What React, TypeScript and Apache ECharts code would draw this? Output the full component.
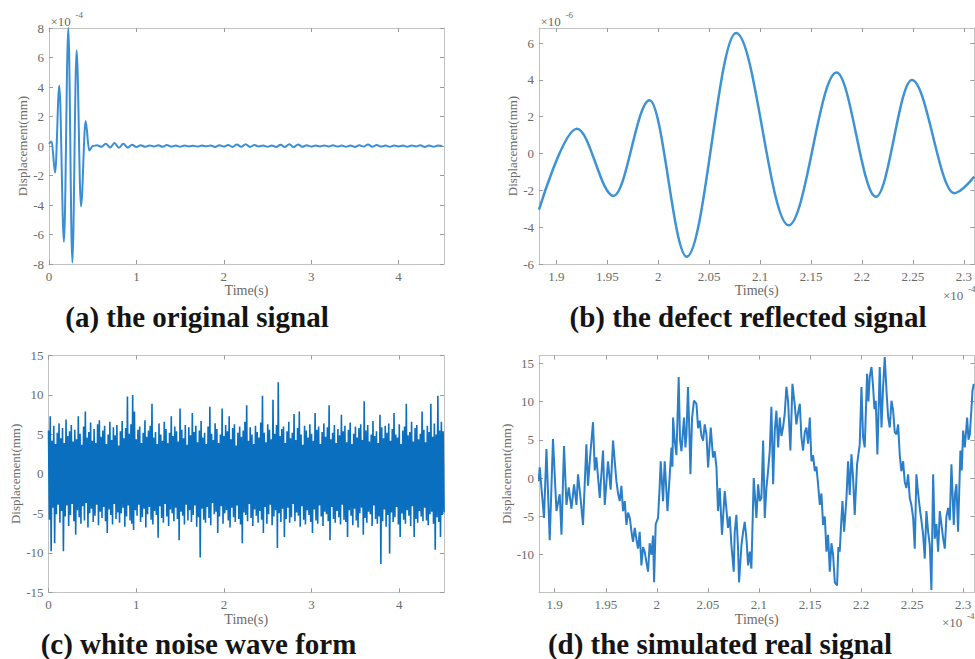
import React, { useEffect, useRef } from "react";
import * as echarts from "echarts";

const FONT = "'Liberation Serif', 'Times New Roman', serif";
const AXIS_COLOR = "#c2c2c2";
const LABEL_COLOR = "#6a6a6a";

// ---------- (a) the original signal (values x 1e-4 mm) ----------
const burstT = [0, 0.03, 0.07, 0.118, 0.171, 0.221, 0.267, 0.316, 0.366, 0.419, 0.46, 0.5];
const burstV = [0.15, 0.3, -1.8, 4.1, -6.5, 8.0, -7.9, 6.5, -4.1, 1.7, -0.3, 0];
const rippleStart = 0.55;
const rippleStep = 0.05;
const rippleV = [
  0.05, -0.05, 0.15, -0.1, 0.2, -0.12, 0.15, -0.1, 0.08, -0.06,
  0.05, -0.05, 0.04, -0.03, 0.05, -0.05, 0.06, -0.04, 0.03, -0.05,
  0.04, -0.03, 0.02, -0.04, 0.03, -0.02, 0.04, -0.06, 0.05, -0.04,
  0.06, -0.06, 0.1, -0.05, 0.12, -0.06, 0.06, -0.03, 0.03, -0.05,
  0.04, -0.06, 0.08, -0.06, 0.12, -0.08, 0.1, -0.05, 0.05, -0.04,
  0.03, -0.03, 0.04, -0.03, 0.05, -0.04, 0.03, -0.05, 0.04, -0.06,
  0.05, -0.04, 0.1, -0.05, 0.06, -0.04, 0.03, -0.05, 0.04, -0.03,
  0.03, -0.05, 0.04, -0.03, 0.05, -0.06, 0.04, -0.05, 0.04, 0,
];
const aXTicks = [0, 1, 2, 3, 4];
const aYTicks = [-8, -6, -4, -2, 0, 2, 4, 6, 8];

// ---------- (b) the defect reflected signal (x 1e-4 s, x 1e-6 mm) ----------
const defectT = [1.883, 1.9202, 1.9562, 1.9915, 2.028, 2.0765, 2.128, 2.175, 2.2137, 2.249, 2.2905, 2.3102];
const defectV = [-3.05, 1.35, -2.3, 2.9, -5.6, 6.55, -3.9, 4.4, -2.35, 4.0, -2.15, -1.25];
const bXTicks = [1.9, 1.95, 2, 2.05, 2.1, 2.15, 2.2, 2.25, 2.3];
const bYTicks = [-6, -4, -2, 0, 2, 4, 6];

// ---------- (c) white noise wave form ----------
const noiseStep = 0.02;
const noiseUpper = [
  5.5, 7.3, 4.2, 6.1, 3.8, 5.2, 6.4, 4.5, 5.8, 3.9, 6.9, 4.8, 5.4, 6.2, 4.1,
  5.6, 4.4, 7.3, 5.1, 3.7, 6.0, 7.9, 4.6, 5.3, 6.5, 4.2, 5.7, 3.9, 6.3, 6.8,
  4.7, 5.5, 6.1, 3.8, 5.0, 6.6, 4.3, 5.9, 4.9, 6.2, 3.6, 5.4, 6.7, 4.5, 5.8,
  9.8, 5.1, 6.3, 10.0, 7.9, 4.4, 5.6, 6.0, 3.9, 5.2, 6.8, 4.7, 5.5, 6.1, 8.9,
  4.6, 5.3, 3.8, 6.4, 5.0, 4.2, 6.6, 5.7, 3.9, 5.2, 7.3, 4.8, 6.0, 5.4, 4.1,
  8.3, 5.6, 4.5, 6.2, 3.7, 5.9, 4.9, 7.7, 5.3, 6.1, 4.0, 5.5, 6.7, 4.6, 5.2,
  3.8, 6.0, 8.5, 5.1, 4.3, 6.4, 5.7, 3.9, 5.0, 8.3, 4.8, 6.2, 5.4, 7.3, 4.4,
  5.8, 6.3, 3.6, 5.2, 6.0, 4.7, 5.5, 6.6, 8.7, 4.2, 5.9, 5.0, 3.8, 6.1, 5.3,
  4.6, 6.5, 9.9, 5.2, 4.0, 6.3, 5.6, 4.4, 9.4, 5.1, 6.2, 11.6, 4.8, 5.7, 6.0,
  3.9, 5.4, 6.6, 4.5, 5.2, 7.6, 4.3, 5.8, 7.9, 5.0, 3.7, 6.1, 5.5, 4.6, 6.3,
  5.1, 4.2, 7.7, 5.6, 6.0, 3.8, 5.3, 6.4, 4.7, 5.9, 8.7, 4.4, 5.2, 6.2, 3.9,
  5.7, 4.9, 7.5, 5.4, 6.1, 4.0, 5.6, 6.5, 3.8, 5.1, 6.0, 4.6, 5.8, 6.3, 4.3,
  9.2, 5.5, 6.2, 4.1, 5.0, 6.7, 4.8, 5.4, 3.9, 7.5, 5.9, 4.5, 6.1, 5.2, 6.4,
  4.2, 5.7, 7.7, 5.0, 4.6, 6.3, 3.8, 5.5, 6.0, 8.9, 4.9, 5.3, 6.6, 4.1, 5.8,
  6.2, 4.4, 5.1, 7.9, 5.6, 4.0, 6.1, 5.3, 8.9, 4.7, 6.4, 5.0, 9.9, 5.5, 6.6, 5.4,
];
const noiseLower = [
  -5.8, -9.8, -4.3, -8.8, -5.1, -3.9, -6.2, -4.7, -9.8, -5.4, -4.0, -6.6, -5.2, -3.8, -6.0,
  -7.7, -4.6, -5.5, -6.3, -4.1, -5.9, -3.7, -6.8, -5.0, -4.4, -6.1, -5.3, -3.9, -6.5, -4.8,
  -5.6, -4.2, -6.0, -7.5, -4.5, -5.2, -6.4, -3.8, -5.7, -4.9, -6.2, -5.0, -4.3, -6.7, -5.4,
  -4.0, -5.9, -6.3, -7.1, -4.6, -5.3, -3.9, -6.1, -5.5, -4.4, -6.8, -5.1, -4.2, -5.8, -6.4,
  -4.7, -5.2, -8.1, -4.1, -5.6, -6.2, -3.8, -5.4, -6.6, -4.5, -5.0, -6.0, -4.3, -5.7, -8.4,
  -4.8, -5.3, -6.4, -3.9, -5.9, -4.6, -6.1, -5.2, -4.0, -6.7, -5.5, -10.6, -4.4, -5.8, -6.2,
  -4.2, -5.6, -6.5, -3.7, -5.1, -4.8, -7.5, -5.4, -4.1, -6.3, -5.0, -4.6, -5.9, -6.8, -4.3,
  -5.5, -6.1, -4.0, -5.7, -6.4, -8.8, -4.9, -5.2, -6.0, -3.8, -5.6, -6.6, -4.5, -5.3, -6.2,
  -4.7, -5.8, -7.5, -4.2, -6.3, -5.1, -3.9, -6.5, -5.4, -4.6, -9.4, -5.0, -6.1, -4.4, -8.0,
  -5.7, -4.3, -6.2, -5.5, -3.8, -6.0, -4.9, -5.3, -6.7, -4.1, -5.8, -6.4, -4.6, -5.2, -6.1,
  -7.5, -4.5, -5.9, -6.3, -4.0, -5.4, -6.6, -4.8, -5.1, -6.0, -8.4, -4.2, -5.7, -6.2, -4.7,
  -5.5, -6.4, -3.9, -5.8, -6.1, -8.0, -4.6, -5.3, -6.5, -4.4, -5.9, -6.8, -5.0, -4.3, -7.7,
  -5.6, -6.2, -4.8, -5.1, -6.6, -4.0, -5.7, -6.3, -5.4, -11.4, -6.0, -4.5, -6.7, -5.2, -10.1,
  -4.9, -6.1, -5.5, -4.2, -6.4, -8.0, -5.0, -5.8, -6.3, -4.6, -5.3, -6.6, -4.1, -8.0, -5.7,
  -6.2, -4.7, -5.4, -6.0, -4.3, -5.9, -6.5, -5.1, -4.8, -6.3, -9.6, -5.5, -6.1, -8.0, -5.2, -4.9,
];
const cYTicks = [-15, -10, -5, 0, 5, 10, 15];

// ---------- (d) the simulated real signal ----------
const realT = [
  1.8843, 1.8853, 1.8895, 1.8919, 1.8951, 1.8983, 1.9017, 1.9049, 1.9066, 1.9091,
  1.9115, 1.9137, 1.9164, 1.9189, 1.9213, 1.9228, 1.9252, 1.9277, 1.931, 1.9326,
  1.9343, 1.9375, 1.9392, 1.9408, 1.9441, 1.9473, 1.949, 1.9522, 1.9548, 1.9571,
  1.9604, 1.962, 1.9637, 1.9653, 1.9669, 1.9686, 1.9702, 1.9718, 1.9735, 1.9757,
  1.9767, 1.9784, 1.98, 1.9816, 1.9832, 1.9849, 1.9865, 1.9881, 1.9898, 1.9914,
  1.993, 1.9947, 1.9963, 1.9973, 1.9989, 2.0012, 2.0028, 2.0038, 2.0061, 2.0077,
  2.0095, 2.0104, 2.0127, 2.0143, 2.0153, 2.0159, 2.0175, 2.0192, 2.0214, 2.0227,
  2.0241, 2.0266, 2.028, 2.029, 2.0305, 2.0319, 2.0329, 2.0345, 2.0364, 2.0388,
  2.0404, 2.042, 2.0437, 2.0453, 2.0469, 2.0486, 2.0502, 2.0528, 2.055, 2.0567,
  2.0584, 2.0599, 2.0616, 2.0638, 2.0665, 2.0681, 2.0697, 2.0714, 2.073, 2.0753,
  2.0763, 2.0779, 2.0795, 2.0805, 2.0829, 2.0845, 2.0861, 2.0878, 2.0894, 2.091,
  2.0926, 2.0949, 2.0975, 2.0992, 2.1008, 2.1024, 2.1041, 2.1057, 2.1073, 2.109,
  2.1106, 2.1122, 2.1139, 2.1155, 2.1171, 2.1188, 2.1204, 2.122, 2.1236, 2.1253,
  2.1269, 2.1285, 2.1308, 2.1328, 2.1351, 2.1367, 2.1383, 2.14, 2.1416, 2.1432,
  2.1449, 2.1465, 2.1481, 2.1498, 2.1514, 2.153, 2.1547, 2.1563, 2.1579, 2.1596,
  2.1612, 2.1628, 2.1645, 2.1661, 2.1677, 2.1694, 2.171, 2.1726, 2.1743, 2.1765,
  2.1778, 2.1791, 2.1805, 2.1818, 2.1834, 2.1857, 2.1873, 2.1889, 2.1906, 2.1922,
  2.1938, 2.1961, 2.1987, 2.2004, 2.202, 2.2036, 2.2059, 2.2072, 2.2085, 2.2102,
  2.2118, 2.2131, 2.2144, 2.216, 2.2183, 2.22, 2.2216, 2.2232, 2.2249, 2.2265,
  2.2281, 2.2298, 2.2314, 2.233, 2.2347, 2.2363, 2.2379, 2.2395, 2.2412, 2.2428,
  2.2444, 2.2461, 2.2477, 2.2493, 2.251, 2.2526, 2.2542, 2.2559, 2.2575, 2.2591,
  2.2608, 2.2624, 2.264, 2.2657, 2.2673, 2.2689, 2.2706, 2.2722, 2.2738, 2.2755,
  2.2771, 2.2787, 2.2804, 2.282, 2.2836, 2.2853, 2.2869, 2.2885, 2.2908, 2.2921,
  2.2934, 2.295, 2.2973, 2.2986, 2.3, 2.3016, 2.3039, 2.3052, 2.3065, 2.3081,
  2.3091, 2.3104,
];
const realV = [
  -0.4, 1.4, -5.2, 3.8, -8.1, 5.1, -4.3, -2.1, -7.4, 4.2,
  -3.5, -1.2, -4, -0.8, -3.5, 0.5, -2.5, -6.1, 4.4, -1,
  2.2, 7.3, 1, 2.7, -2.6, 3.6, -3.5, 2.2, -1.5, 4.9,
  -0.4, -2, -3, -1, -4.3, -3, -6.1, -4.5, -5.2, -7.5,
  -8.3, -6.5, -8, -9.2, -7, -11.4, -9, -9.6, -11, -12.2,
  -8.5, -10, -7.5, -13.6, -6, -5.2, -1, 2.2, -3, 2.2,
  -2, -4.3, 0.5, 4, 1.5, 7.9, 4.9, 3, 13.2, 5,
  3.5, 7.9, 4, 5.7, 11.9, 6, 0.5, 7.9, 10.1, 9.7,
  6.5, 7.5, 5.5, 4.9, 7, 5.7, 1.4, 6.6, 2.7, 3.5,
  1.4, -4.3, -1.3, -7.4, -1.7, -4, -6.5, -5, -8.7, -12.2,
  -7, -4.8, -9, -13.6, -8.7, -7, -5.7, -8, -11.4, -9.6,
  -11.8, 0, -5.2, -0.8, -3, -2.6, 4.9, -5.2, -1.3, 1,
  3.6, 9.3, -0.8, 6.2, 8.8, 4, 7.9, 5.5, 6.6, 8.5,
  11.9, 10.1, 3.6, 12.3, 9.5, 7, 8.5, 9.7, 5.3, 3.6,
  6, 6.6, 4.5, 7.9, 2.2, 3, 0.9, 1.5, -0.8, -3.5,
  -2, -6.1, -5, -9.6, -7.4, -12.2, -8.5, -10, -13.6, -14,
  -9, -9.6, -6, -3, -7, -2.6, 2.2, -2.2, 3.1, 0,
  -4.8, 1.8, 4.4, 11.9, 5.3, 4, 13.6, 10, 13.2, 14.5,
  11.9, 9, 10.1, 3.1, 14.5, 6.6, 11.9, 15.8, 11.4, 8,
  6.6, 10.1, 8.8, 6, 5.7, 7, 3, 0.9, 2.2, -0.5,
  -1.3, 0.5, -2.6, -3.5, -5.2, -9.2, 0.5, -2, -3.9, -5.5,
  -7.4, -10.5, -4.3, -7, -8.7, -14.6, 0.5, -7.9, -6, -9.6,
  -4.3, -6, -7.9, -9.2, -5, -3.9, -5.5, 1.8, -6.1, -2,
  -0.8, -7, 3.6, 1, 6.2, 4, 7.9, 5, 5.7, 9,
  11.4, 12.3,
];
const dYTicks = [-10, -5, 0, 5, 10, 15];

const GRIDS = [
  { left: 49, top: 28, width: 395, height: 236 },
  { left: 539, top: 28, width: 435.5, height: 236 },
  { left: 48.5, top: 355.5, width: 395.5, height: 236.8 },
  { left: 539, top: 355.5, width: 435.5, height: 236.8 },
];

function axisPair(
  grid: number,
  dir: "x" | "y",
  min: number,
  max: number,
  ticks: number[],
  name: string,
  nameGap: number
) {
  const common = {
    type: "value",
    gridIndex: grid,
    min,
    max,
    splitLine: { show: false },
    axisLine: { show: true, onZero: false, lineStyle: { color: AXIS_COLOR, width: 1 } },
    axisTick: { show: true, inside: true, length: 4, customValues: ticks, lineStyle: { color: "#9a9a9a", width: 1 } },
  };
  const main = {
    ...common,
    position: dir === "x" ? "bottom" : "left",
    name,
    nameLocation: "middle",
    nameGap,
    nameTextStyle: { color: LABEL_COLOR, fontFamily: FONT, fontSize: dir === "x" ? 14 : 13 },
    axisLabel: {
      show: true,
      customValues: ticks,
      color: LABEL_COLOR,
      fontFamily: FONT,
      fontSize: 13,
      margin: dir === "x" ? 6 : 5,
    },
  };
  const other = {
    ...common,
    position: dir === "x" ? "top" : "right",
    axisLabel: { show: false },
  };
  return [main, other];
}

function pairs(t: number[], v: number[]) {
  return t.map((x, i) => [x, v[i]]);
}

function supText(x: number, y: number, exp: string) {
  return [
    {
      type: "text",
      x,
      y,
      style: { text: "×10", x: 0, y: 0, fill: LABEL_COLOR, font: `13px ${FONT}`, align: "left", verticalAlign: "middle", textAlign: "left", textVerticalAlign: "middle" },
    },
    {
      type: "text",
      x: x + 25,
      y: y - 6,
      style: { text: exp, x: 0, y: 0, fill: LABEL_COLOR, font: `9px ${FONT}`, align: "left", verticalAlign: "middle", textAlign: "left", textVerticalAlign: "middle" },
    },
  ];
}

function caption(x: number, y: number, text: string) {
  return {
    type: "text",
    x,
    y,
    style: {
      text,
      x: 0,
      y: 0,
      fill: "#141414",
      font: `bold 29px ${FONT}`,
      align: "center",
      verticalAlign: "middle",
      textAlign: "center",
      textVerticalAlign: "middle",
    },
  };
}

export default function App() {
  const ref = useRef<HTMLDivElement>(null);

  useEffect(() => {
    if (!ref.current) return;
    const chart = echarts.init(ref.current, undefined, { renderer: "svg" });

    const aData = [
      ...pairs(burstT, burstV),
      ...rippleV.map((v, i) => [rippleStart + i * rippleStep, v]),
    ];
    const cData: number[][] = [];
    noiseUpper.forEach((u, i) => {
      cData.push([i * noiseStep, u]);
      cData.push([i * noiseStep + noiseStep / 2, noiseLower[i]]);
    });

    const xAxis = [
      ...axisPair(0, "x", 0, 4.52, aXTicks, "Time(s)", 19),
      ...axisPair(1, "x", 1.883, 2.3103, bXTicks, "Time(s)", 19),
      ...axisPair(2, "x", 0, 4.51, aXTicks, "Time(s)", 17),
      ...axisPair(3, "x", 1.8846, 2.3111, bXTicks, "Time(s)", 17),
    ];
    const yAxis = [
      ...axisPair(0, "y", -8, 8, aYTicks, "Displacement(mm)", 19.5),
      ...axisPair(1, "y", -6, 6.82, bYTicks, "Displacement(mm)", 18.3),
      ...axisPair(2, "y", -15, 15, cYTicks, "Displacement(mm)", 25.3),
      ...axisPair(3, "y", -14.9, 16, dYTicks, "Displacement(mm)", 25.8),
    ];

    chart.setOption({
      animation: false,
      backgroundColor: "#ffffff",
      grid: GRIDS.map((g) => ({ ...g, containLabel: false })),
      xAxis,
      yAxis,
      series: [
        {
          type: "line",
          xAxisIndex: 0,
          yAxisIndex: 0,
          data: aData,
          showSymbol: false,
          smooth: 0.35,
          smoothMonotone: "x",
          lineStyle: { color: "#3a8fd4", width: 2 },
        },
        {
          type: "line",
          xAxisIndex: 2,
          yAxisIndex: 2,
          data: pairs(defectT, defectV),
          showSymbol: false,
          smooth: 0.35,
          smoothMonotone: "x",
          lineStyle: { color: "#3d93d6", width: 2.5 },
        },
        {
          type: "line",
          xAxisIndex: 4,
          yAxisIndex: 4,
          data: cData,
          showSymbol: false,
          lineStyle: { color: "#0a6fbe", width: 1.6, join: "miter" },
        },
        {
          type: "line",
          xAxisIndex: 6,
          yAxisIndex: 6,
          data: pairs(realT, realV),
          showSymbol: false,
          lineStyle: { color: "#2a7fc8", width: 2 },
        },
      ],
      graphic: [
        ...supText(50.5, 21, "-4"),
        ...supText(540.5, 21, "-6"),
        ...supText(943, 295, "-4"),
        ...supText(942, 622, "-4"),
        caption(197, 317, "(a) the original signal"),
        caption(748, 317, "(b) the defect reflected signal"),
        caption(198.5, 643.5, "(c) white noise wave form"),
        caption(720, 643.5, "(d) the simulated real signal"),
      ],
    });

    return () => chart.dispose();
  }, []);

  return (
    <div
      ref={ref}
      style={{ position: "fixed", left: 0, top: 0, width: 975, height: 659, background: "#fff" }}
    />
  );
}
